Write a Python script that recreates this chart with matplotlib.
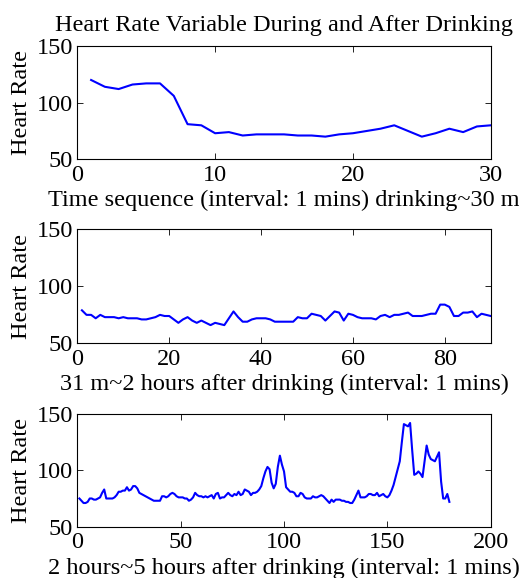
import matplotlib
matplotlib.use('Agg')
import matplotlib.pyplot as plt
import numpy as np

# heart rate during drinking (first 30 mins)
hr_during = [120, 114, 112, 116, 117, 117, 106, 81, 80, 73,
             74, 71, 72, 72, 72, 71, 71, 70, 72, 73,
             75, 77, 80, 75, 70, 73, 77, 74, 79, 80]

# 31 m ~ 2 hours after drinking
hr_after1 = [79, 75, 75, 72, 75, 73, 73, 73, 72, 73,
             72, 72, 72, 71, 71, 72, 73, 75, 74, 74,
             71, 68, 71, 73, 70, 68, 70, 68, 66, 68,
             67, 66, 72, 78, 73, 69, 69, 71, 72, 72,
             72, 71, 69, 69, 69, 69, 69, 73, 72, 72,
             76, 75, 74, 70, 74, 78, 77, 70, 76, 75,
             73, 72, 72, 72, 71, 74, 75, 73, 75, 75,
             76, 77, 74, 74, 74, 75, 76, 76, 84, 84,
             82, 74, 74, 77, 77, 78, 73, 76, 75, 74]

# 2 hours ~ 5 hours after drinking
hr_after2 = [75, 73, 71, 71, 72, 75, 75, 74, 74, 75,
             76, 80, 83, 75, 75, 75, 75, 76, 78, 81,
             81, 82, 82, 85, 82, 83, 86, 86, 84, 80,
             79, 78, 77, 76, 75, 74, 73, 73, 73, 73,
             77, 77, 76, 77, 79, 80, 79, 77, 76, 76,
             76, 75, 75, 73, 74, 76, 80, 78, 77, 77,
             76, 77, 76, 77, 78, 75, 79, 80, 75, 76,
             76, 78, 80, 78, 77, 79, 78, 81, 78, 79,
             83, 82, 81, 78, 80, 80, 81, 83, 86, 93,
             99, 103, 101, 89, 84, 88, 103, 113, 105, 99,
             85, 83, 81, 81, 80, 77, 77, 80, 79, 76,
             75, 75, 75, 77, 76, 76, 77, 78, 77, 75,
             73, 71, 74, 72, 74, 74, 74, 73, 73, 72,
             72, 71, 71, 74, 78, 82, 76, 76, 76, 77,
             79, 79, 78, 78, 80, 77, 78, 79, 77, 76,
             78, 82, 87, 94, 101, 108, 125, 141, 140, 139,
             142, 118, 96, 97, 99, 97, 94, 108, 122, 114,
             110, 109, 108, 112, 116, 90, 75, 75, 79, 72]

xlabels = ['Time sequence (interval: 1 mins) drinking~30 m',
           '31 m~2 hours after drinking (interval: 1 mins)',
           '2 hours~5 hours after drinking (interval: 1 mins)']
xlims = [30, 90, 200]
xticks = [[0, 10, 20, 30], [0, 20, 40, 60, 80], [0, 50, 100, 150, 200]]
yticks = [50, 100, 150]

plt.rcParams['font.family'] = 'Liberation Serif'
plt.rcParams['font.size'] = 17.5

fig = plt.figure(figsize=(5.19, 5.78), dpi=100)
rects = [[0.149, 0.7244, 0.7965, 0.196],
         [0.149, 0.406, 0.7965, 0.197],
         [0.149, 0.0888, 0.7965, 0.195]]

for i, series in enumerate([hr_during, hr_after1, hr_after2]):
    ax = fig.add_axes(rects[i])
    x = np.arange(1, len(series) + 1)
    ax.plot(x, series, color='#0000ff', lw=1.5)
    ax.set_xlim(0, xlims[i])
    ax.set_ylim(50, 150)
    ax.set_xticks(xticks[i])
    ax.set_yticks(yticks)
    ax.tick_params(direction='in', top=True, right=True, length=4, width=0.6,
                   labelsize=17.5)
    ax.tick_params(axis='x', pad=4)
    ax.tick_params(axis='y', pad=3)
    for s in ax.spines.values():
        s.set_linewidth(0.8)
    ax.set_xlabel(xlabels[i], labelpad=3)
    ax.set_ylabel('Heart Rate')
    ax.yaxis.set_label_coords(-0.11, 0.5)
    if i == 0:
        ax.set_title('Heart Rate Variable During and After Drinking', fontsize=17.5, pad=11)

fig.savefig('out.png', dpi=100)
